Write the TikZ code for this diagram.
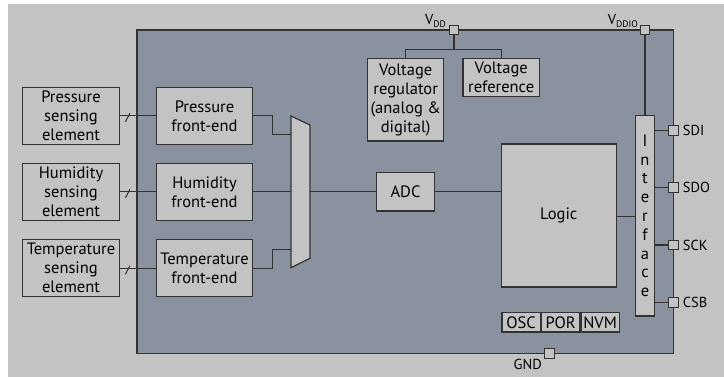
\documentclass[tikz,border=0pt]{standalone}
\usepackage{fontspec}
\setmainfont{PT Sans}
\definecolor{pagebg}{HTML}{C3C3C3}
\definecolor{chipbg}{HTML}{8B929F}
\definecolor{boxbg}{HTML}{C3C3C3}
\definecolor{wirec}{HTML}{333333}
\newcommand{\boxfont}{\fontsize{16.5}{19}\selectfont}
\newcommand{\pinfont}{\fontsize{14.5}{16}\selectfont}
\newcommand{\pinsub}[1]{\raisebox{-0.3ex}{\fontsize{9.5}{10}\selectfont #1}}
\tikzset{
  blk/.style={draw=wirec, fill=boxbg, line width=1.2pt, inner sep=0pt,
    align=center, font=\boxfont},
  pinbox/.style={draw=wirec, fill=boxbg, line width=1pt, minimum size=9.5pt,
    inner sep=0pt},
  pinlab/.style={font=\pinfont, inner sep=0pt},
  wire/.style={draw=wirec, line width=1.2pt},
}
\begin{document}
\begin{tikzpicture}[x=1pt, y=-1pt]
  \useasboundingbox (0,0) rectangle (724,377);
  % Background and chip body
  \fill[pagebg] (8,4) rectangle (724,377);
  \filldraw[fill=chipbg, draw=wirec, line width=1.2pt]
    (137,30) rectangle (673.5,353.7);
  % Sensing elements and front-ends
  \foreach \n/\y/\lab in {p/115.8/Pressure, h/191.8/Humidity, t/268.3/Temperature} {
    \node[blk, minimum width=96.6pt, minimum height=57pt] (se\n) at (71,\y)
      {\lab\\sensing\\element};
    \node[blk, minimum width=95.6pt, minimum height=57pt] (fe\n) at (204.5,\y)
      {\lab\\front-end};
    \draw[wire] (se\n) -- (fe\n);
    \draw[wire, line width=1pt] ([shift={(5.5,6)}]se\n.east) -- ++(4.5,-8.5);
  }
  % Multiplexer
  \filldraw[fill=boxbg, draw=wirec, line width=1.2pt]
    (291,116) -- (310,125) -- (310,258.3) -- (291,267.7) -- cycle;
  \coordinate (muxp) at (291,134.3);
  \coordinate (muxh) at (291,191.8);
  \coordinate (muxt) at (291,249.3);
  \coordinate (muxo) at (310,191.8);
  \foreach \n in {p, h, t} {
    \draw[wire] (fe\n.east) -- ++(19.4,0) |- (mux\n);
  }
  % Converter and logic
  \node[blk, minimum width=57.6pt, minimum height=38.3pt] (adc) at (405.5,191.8) {ADC};
  \node[blk, minimum width=115pt, minimum height=143pt] (logic) at (558.8,215.5) {Logic};
  \draw[wire] (muxo) -- (adc);
  \draw[wire] (adc) -- (adc -| logic.west);
  % Supply blocks
  \node[blk, minimum width=76pt, minimum height=82.3pt] (vreg) at (405.7,99.85)
    {Voltage\\regulator\\(analog \&\\digital)};
  \node[blk, minimum width=76.3pt, minimum height=38pt] (vref) at (501.2,77.7)
    {Voltage\\reference};
  \node[pinbox] (vdd) at (454,30) {};
  \node[pinlab, anchor=base east] at (446,25) {V\pinsub{DD}};
  \draw[wire] (vdd.south) -- (454,49.3) coordinate (vsplit);
  \draw[wire] (vreg.north) |- (vsplit) -| (vref.north);
  % Interface
  \node[blk, minimum width=19.2pt, minimum height=200.3pt,
    font=\fontsize{16.5}{18.8}\selectfont] (ifc) at (645,215.85)
    {I\\n\\t\\e\\r\\f\\a\\c\\e};
  \draw[wire] (logic.east |- 0,216.3) -- (ifc.west |- 0,216.3);
  \node[pinbox] (vddio) at (645,30) {};
  \node[pinlab, anchor=base east] at (638,25) {V\pinsub{DDIO}};
  \draw[wire] (vddio.south) -- (ifc.north);
  \foreach \p/\y/\lab in {sdi/130.7/SDI, sdo/187.7/SDO, sck/245/SCK, csb/302.3/CSB} {
    \node[pinbox] (\p) at (673.5,\y) {};
    \node[pinlab, anchor=west] at ([xshift=4pt]\p.east) {\lab};
    \draw[wire] (\p.west) -- (\p.west -| ifc.east);
  }
  % Housekeeping blocks
  \node[blk, minimum width=38.4pt, minimum height=19.3pt, anchor=west]
    (osc) at (501.3,322.3) {OSC};
  \node[blk, minimum width=38.3pt, minimum height=19.3pt, anchor=west]
    (por) at (osc.east) {POR};
  \node[blk, minimum width=38.3pt, minimum height=19.3pt, anchor=west]
    (nvm) at (por.east) {NVM};
  % Ground
  \node[pinbox] (gnd) at (549.5,353.7) {};
  \node[pinlab, anchor=base east] at (542,369.5) {GND};
\end{tikzpicture}
\end{document}
